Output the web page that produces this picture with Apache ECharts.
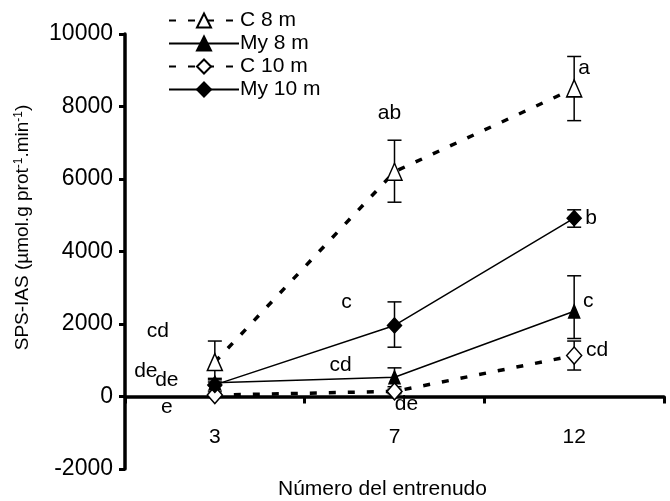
<!DOCTYPE html>
<html>
<head>
<meta charset="utf-8">
<script src="https://cdn.jsdelivr.net/npm/echarts@6/dist/echarts.min.js"></script>
<style>html,body{margin:0;padding:0;background:#fff;}#c{width:670px;height:501px;}</style>
</head>
<body>
<div id="c"></div>
<script>
// ---- data ----
const categories = ['3', '7', '12'];
const seriesNames = ['C 8 m', 'My 8 m', 'C 10 m', 'My 10 m'];
const c8m = [950, 6200, 8500];
const c8mErr = [[400, 1530], [5360, 7070], [7610, 9380]];
const my8m = [380, 530, 2350];
const my8mErr = [[300, 460], [270, 790], [1600, 3330]];
const c10m = [40, 140, 1130];
const c10mErr = [[0, 90], [80, 200], [730, 1530]];
const my10m = [320, 1960, 4920];
const my10mErr = [[150, 500], [1360, 2610], [4670, 5150]];
const yTicks = [-2000, 0, 2000, 4000, 6000, 8000, 10000];
// significance letters: category index, value, text
const letterCats = [2, 1, 2, 2, 2, 1, 1, 1, 0, 0, 0, 0];
const letterValues = [9050, 7810, 4920, 2640, 1290, 2590, 850, -220, 1790, 690, 440, -300];
const letterTexts = ['a', 'ab', 'b', 'c', 'cd', 'c', 'cd', 'de', 'cd', 'de', 'de', 'e'];
// label pixel offsets (layout only)
const letterDx = [10, -5, 17, 14, 23, -48, -54, 12, -57, -69, -48, -48];

const FONT = 'Liberation Sans';

function errRender(params, api) {
  const x = api.value(0);
  const lo = api.coord([x, api.value(1)]);
  const hi = api.coord([x, api.value(2)]);
  const w = 7;
  const style = { stroke: '#000', lineWidth: 1.5 };
  return {
    type: 'group',
    children: [
      { type: 'line', shape: { x1: lo[0], y1: lo[1], x2: hi[0], y2: hi[1] }, style: style },
      { type: 'line', shape: { x1: lo[0] - w, y1: lo[1], x2: lo[0] + w, y2: lo[1] }, style: style },
      { type: 'line', shape: { x1: hi[0] - w, y1: hi[1], x2: hi[0] + w, y2: hi[1] }, style: style }
    ]
  };
}
function errData(arr) { return arr.map((e, i) => [i, e[0], e[1]]); }

const defs = [
  { name: seriesNames[0], data: c8m, err: c8mErr, symbol: 'triangle', size: [15, 17], fill: '#fff', dashed: true },
  { name: seriesNames[1], data: my8m, err: my8mErr, symbol: 'triangle', size: [11, 13], fill: '#000', dashed: false },
  { name: seriesNames[2], data: c10m, err: c10mErr, symbol: 'diamond', size: [15, 17], fill: '#fff', dashed: true },
  { name: seriesNames[3], data: my10m, err: my10mErr, symbol: 'diamond', size: [14, 15], fill: '#000', dashed: false }
];

const series = [];
defs.forEach(d => {
  series.push({
    type: 'custom', name: d.name + ' err', renderItem: errRender, data: errData(d.err), z: 1, silent: true
  });
});
defs.forEach(d => {
  series.push({
    type: 'line', name: d.name, data: d.data, z: 3,
    symbol: d.symbol, symbolSize: d.size, showAllSymbol: true,
    lineStyle: d.dashed ? { color: '#000', width: 3.5, type: [7, 12] } : { color: '#000', width: 1.5, type: 'solid' },
    itemStyle: { color: d.fill, borderColor: '#000', borderWidth: 1.5, opacity: 1 },
    animation: false
  });
});
series.push({
  type: 'scatter', name: 'letters', symbolSize: 0, z: 5, silent: true,
  itemStyle: { opacity: 1 },
  data: letterTexts.map((t, i) => ({
    name: t, value: [letterCats[i], letterValues[i]],
    label: { offset: [letterDx[i], 0] }
  })),
  label: { show: true, position: 'inside', formatter: p => p.name, color: '#000', opacity: 1, fontSize: 21, fontFamily: FONT }
});

const chart = echarts.init(document.getElementById('c'), null, { renderer: 'canvas' });
chart.setOption({
  animation: false,
  backgroundColor: '#fff',
  grid: { left: 125, right: 6, top: 34, bottom: 32, containLabel: false, outerBoundsMode: 'none' },
  legend: {
    data: seriesNames, orient: 'vertical', left: 163, top: 5,
    itemWidth: 70, itemHeight: 17.5, itemGap: 2,
    textStyle: { fontSize: 21, fontFamily: FONT, color: '#000', padding: [0, 0, 0, -4] },
    inactiveColor: '#000'
  },
  xAxis: {
    type: 'category', data: categories, boundaryGap: true,
    axisLine: { onZero: true, lineStyle: { color: '#000', width: 3.5 } },
    axisTick: { show: true, alignWithLabel: false, length: 7, lineStyle: { color: '#000', width: 3 } },
    axisLabel: { margin: -42, fontSize: 21, fontFamily: FONT, color: '#000' },
    name: 'Número del entrenudo', nameLocation: 'middle', nameGap: 10,
    nameTextStyle: { fontSize: 21, fontFamily: FONT, color: '#000', padding: [0, 24, 0, 0] },
    splitLine: { show: false }
  },
  yAxis: {
    type: 'value', min: yTicks[0], max: yTicks[yTicks.length - 1], interval: 2000,
    axisLine: { show: true, lineStyle: { color: '#000', width: 3.5 } },
    axisTick: { show: true, length: 6, lineStyle: { color: '#000', width: 3 } },
    axisLabel: { margin: 12, fontSize: 23, fontFamily: FONT, color: '#000', formatter: v => String(v) },
    splitLine: { show: false },
    name: 'SPS-IAS (µmol.g prot{sup|-1}.min{sup|-1})', nameLocation: 'middle', nameRotate: 90, nameGap: 92,
    nameTextStyle: {
      fontSize: 19, fontFamily: FONT, color: '#000', padding: [0, 0, 0, 48],
      rich: { sup: { fontSize: 12, fontFamily: FONT, color: '#000', verticalAlign: 'top', padding: [0, 0, 8, 0] } }
    }
  },
  series: series
});
</script>
</body>
</html>
